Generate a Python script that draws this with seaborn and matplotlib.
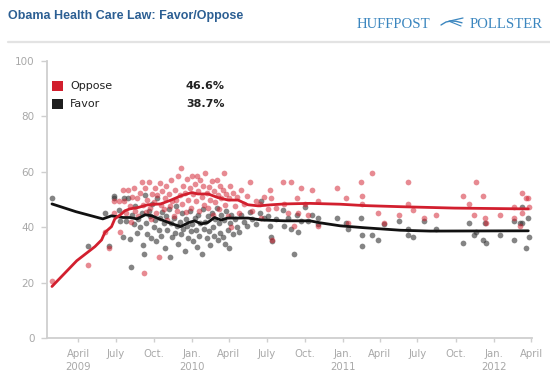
import pandas as pd
import numpy as np
import matplotlib
matplotlib.use("Agg")
import matplotlib.pyplot as plt
import seaborn as sns
from matplotlib.patches import Rectangle
from matplotlib.lines import Line2D

# poll results (each poll gives an oppose and a favor value)
poll_dates = [
    "2009-01-28", "2009-04-26", "2009-06-05", "2009-06-14", "2009-06-26", "2009-06-27",
    "2009-07-08", "2009-07-12", "2009-07-18", "2009-07-22", "2009-07-26",
    "2009-08-01", "2009-08-04", "2009-08-07", "2009-08-10", "2009-08-14", "2009-08-18",
    "2009-08-21", "2009-08-25", "2009-08-29",
    "2009-09-02", "2009-09-05", "2009-09-08", "2009-09-10", "2009-09-13", "2009-09-16",
    "2009-09-19", "2009-09-22", "2009-09-25", "2009-09-28",
    "2009-10-01", "2009-10-04", "2009-10-07", "2009-10-10", "2009-10-13", "2009-10-16",
    "2009-10-19", "2009-10-22", "2009-10-25", "2009-10-28", "2009-10-31",
    "2009-11-03", "2009-11-06", "2009-11-09", "2009-11-12", "2009-11-15", "2009-11-18",
    "2009-11-21", "2009-11-24", "2009-11-27", "2009-11-30",
    "2009-12-03", "2009-12-06", "2009-12-09", "2009-12-12", "2009-12-15", "2009-12-18",
    "2009-12-21", "2009-12-24", "2009-12-27", "2009-12-30",
    "2010-01-02", "2010-01-05", "2010-01-08", "2010-01-11", "2010-01-13", "2010-01-16",
    "2010-01-19", "2010-01-22", "2010-01-25", "2010-01-28", "2010-01-31",
    "2010-02-03", "2010-02-06", "2010-02-09", "2010-02-12", "2010-02-15", "2010-02-18",
    "2010-02-21", "2010-02-24", "2010-02-27",
    "2010-03-02", "2010-03-05", "2010-03-08", "2010-03-11", "2010-03-14", "2010-03-17",
    "2010-03-20", "2010-03-23", "2010-03-26", "2010-03-29",
    "2010-04-01", "2010-04-04", "2010-04-07", "2010-04-11", "2010-04-15", "2010-04-20",
    "2010-04-25", "2010-05-01", "2010-05-07", "2010-05-14", "2010-05-21", "2010-05-28",
    "2010-06-05", "2010-06-14", "2010-06-18", "2010-06-26",
    "2010-07-05", "2010-07-10", "2010-07-12", "2010-07-14", "2010-07-25",
    "2010-08-10", "2010-08-11", "2010-08-22", "2010-08-29", "2010-09-06", "2010-09-13",
    "2010-09-14", "2010-09-22", "2010-10-03", "2010-10-09", "2010-10-19", "2010-11-02",
    "2010-11-03", "2010-12-18",
    "2011-01-10", "2011-01-14", "2011-02-15", "2011-02-16", "2011-02-17", "2011-03-13",
    "2011-03-28", "2011-04-11", "2011-05-17", "2011-06-07", "2011-06-08", "2011-06-21",
    "2011-07-18", "2011-08-15", "2011-10-18", "2011-11-02", "2011-11-15", "2011-11-19",
    "2011-12-07", "2011-12-12", "2011-12-13",
    "2012-01-16", "2012-02-19", "2012-02-20", "2012-03-05", "2012-03-10", "2012-03-11",
    "2012-03-19", "2012-03-25", "2012-03-26",
]
oppose = [
    20.4, 26.4, 38.4, 32.4, 45.3, 49.3,
    49.3, 38.4, 53.4, 49.3, 45.3,
    53.4, 47.5, 42.0, 51.0, 54.3, 46.0, 50.5, 44.0, 52.5,
    56.4, 48.0, 23.3, 54.3, 45.5, 50.0, 56.4, 47.0, 43.0, 52.0,
    49.0, 54.3, 45.0, 51.5, 29.4, 56.0, 48.0, 53.0, 46.5, 50.5, 55.0,
    42.5, 52.0, 47.5, 57.0, 49.5, 44.0, 53.5, 50.0, 46.0, 58.5,
    51.5, 61.3, 48.5, 55.0, 52.5, 45.5, 57.5, 50.0, 54.0, 47.0,
    58.6, 52.0, 55.5, 49.5, 58.6, 53.0, 46.0, 57.0, 51.0, 55.0, 48.0,
    59.4, 52.5, 47.0, 54.5, 50.0, 56.5, 44.5, 53.0, 49.0,
    57.0, 51.5, 46.5, 55.0, 50.5, 53.5, 59.4, 48.0, 52.0, 44.0,
    50.5, 55.0, 39.9, 52.5, 47.5, 51.0, 45.0, 53.5, 48.5, 51.4, 56.4, 46.0,
    49.5, 48.4, 43.5, 51.0,
    46.5, 53.4, 50.4, 35.4, 47.0,
    56.4, 48.4, 45.3, 56.4, 40.3, 50.4, 45.3, 54.3, 48.4, 44.4, 53.4, 49.3, 40.3, 54.3,
    50.4, 41.4, 56.4, 51.4, 48.4, 59.4, 45.3, 41.6, 44.4, 56.4, 48.4, 46.3,
    43.3, 44.4, 51.4, 48.4, 44.4, 56.4, 51.4, 43.3, 41.4,
    44.4, 47.4, 43.3, 40.3, 52.4, 45.3, 50.4, 50.4, 47.4,
]
favor = [
    50.4, 33.3, 45.3, 33.3, 51.4, 50.4,
    46.3, 42.3, 36.3, 50.4, 42.3,
    50.4, 35.7, 25.5, 44.5, 41.0, 47.5, 38.0, 43.0, 40.0,
    45.0, 33.5, 30.3, 51.5, 41.5, 37.5, 46.0, 44.0, 36.0, 48.5,
    40.0, 42.5, 35.0, 50.5, 39.0, 43.5, 37.0, 45.5, 41.5, 32.5, 44.0,
    39.0, 46.5, 29.4, 41.5, 36.5, 43.5, 38.0, 47.5, 40.5, 34.0,
    42.0, 37.5, 45.0, 39.5, 31.5, 43.0, 40.5, 36.0, 46.0, 38.5,
    41.0, 35.0, 43.5, 39.0, 33.0, 44.5, 37.0, 41.5, 30.5, 46.5, 39.5,
    42.0, 36.0, 44.0, 38.5, 33.5, 45.0, 40.0, 37.0, 43.0,
    47.0, 35.5, 41.5, 38.0, 44.5, 36.5, 42.5, 34.0, 46.0, 39.0,
    32.4, 41.5, 44.5, 37.5, 43.0, 40.0, 38.4, 44.4, 42.0, 40.5, 45.5, 43.0,
    41.0, 45.3, 49.5, 43.5,
    44.0, 40.5, 36.3, 35.0, 43.0,
    46.3, 40.3, 43.3, 39.4, 30.3, 44.4, 38.4, 42.3, 47.4, 42.3, 44.4, 43.3, 41.0, 43.3,
    41.4, 39.4, 43.3, 37.3, 33.3, 37.3, 35.4, 41.2, 42.3, 39.4, 37.3, 36.3,
    42.3, 39.4, 34.3, 41.4, 37.3, 38.4, 35.4, 41.4, 34.3,
    37.3, 42.3, 35.4, 41.4, 47.4, 41.4, 32.4, 43.3, 36.3,
]

# smoothed trend estimates
trend_dates_opp = [
    "2009-01-28", "2009-03-29", "2009-05-12", "2009-05-28", "2009-06-05", "2009-06-21",
    "2009-06-29", "2009-07-15", "2009-07-23", "2009-08-04", "2009-08-24", "2009-09-17",
    "2009-10-18", "2009-11-12", "2009-12-07", "2010-01-01", "2010-01-16", "2010-02-10",
    "2010-03-05", "2010-03-30", "2010-04-23", "2010-05-17", "2010-06-11", "2010-07-13",
    "2010-08-14", "2010-10-14", "2010-12-26", "2011-02-23", "2011-05-21", "2011-09-28",
    "2012-03-25",
]
trend_opp = [
    18.6, 27.9, 33.0, 35.4, 38.1, 40.2,
    43.0, 44.8, 45.9, 46.6, 47.1, 48.1,
    48.4, 49.8, 51.4, 52.5, 52.0, 52.0,
    50.7, 49.8, 49.8, 48.1, 47.7, 48.1,
    48.4, 48.6, 48.3, 47.8, 47.4, 46.9,
    46.6,
]
trend_dates_fav = [
    "2009-01-28", "2009-03-27", "2009-05-31", "2009-06-21", "2009-07-19", "2009-08-04",
    "2009-08-22", "2009-09-11", "2009-09-27", "2009-10-21", "2009-11-15", "2009-12-05",
    "2009-12-25", "2010-01-08", "2010-01-24", "2010-02-09", "2010-02-25", "2010-03-13",
    "2010-03-29", "2010-05-17", "2010-06-19", "2010-08-14", "2010-10-14", "2010-11-07",
    "2010-12-26", "2011-02-23", "2011-05-21", "2011-08-01", "2012-03-25",
]
trend_fav = [
    48.4, 45.6, 43.0, 44.1, 43.5, 43.5,
    43.0, 44.5, 44.1, 42.6, 41.2, 40.2,
    41.7, 42.3, 41.2, 41.7, 43.5, 42.6,
    43.3, 43.3, 42.6, 42.3, 42.3, 41.6,
    40.5, 39.8, 38.9, 38.6, 38.7,
]

tick_dates = ["2009-04-01", "2009-07-01", "2009-10-01", "2010-01-01", "2010-04-01",
              "2010-07-01", "2010-10-01", "2011-01-01", "2011-04-01", "2011-07-01",
              "2011-10-01", "2012-01-01", "2012-04-01"]
tick_labels = ["April\n2009", "July", "Oct.", "Jan.\n2010", "April", "July", "Oct.",
               "Jan.\n2011", "April", "July", "Oct.", "Jan.\n2012", "April"]

polls = pd.DataFrame({"date": pd.to_datetime(poll_dates), "Oppose": oppose, "Favor": favor})
tr_opp = pd.DataFrame({"date": pd.to_datetime(trend_dates_opp), "value": trend_opp})
tr_fav = pd.DataFrame({"date": pd.to_datetime(trend_dates_fav), "value": trend_fav})

red = "#d21f2e"
dark = "#111111"
gray_txt = "#a8a8a8"
logo_blue = "#3b86bf"

sns.set_style("white")
plt.rcParams["font.family"] = ["DejaVu Sans"]

fig = plt.figure(figsize=(5.5, 3.77), dpi=100)
ax = fig.add_axes([47 / 550, 39 / 377, 485 / 550, 277 / 377])

sns.scatterplot(data=polls, x="date", y="Favor", color="#333333", alpha=0.6,
                s=17, linewidth=0, ax=ax, zorder=2)
sns.scatterplot(data=polls, x="date", y="Oppose", color=red, alpha=0.52,
                s=17, linewidth=0, ax=ax, zorder=3)
sns.lineplot(data=tr_fav, x="date", y="value", color=dark, linewidth=2.0, ax=ax, zorder=4)
sns.lineplot(data=tr_opp, x="date", y="value", color=red, linewidth=2.0, ax=ax, zorder=5)

ax.set_xlim(pd.Timestamp("2009-01-16"), pd.Timestamp("2012-04-03"))
ax.set_ylim(0, 100)
ax.set_yticks([0, 20, 40, 60, 80, 100])
ax.set_xticks(pd.to_datetime(tick_dates))
ax.set_xticklabels(tick_labels, linespacing=1.3)
ax.set_xlabel("")
ax.set_ylabel("")

for side in ["top", "right"]:
    ax.spines[side].set_visible(False)
for side in ["left", "bottom"]:
    ax.spines[side].set_color("#cfcfcf")
    ax.spines[side].set_linewidth(1.3)

ax.tick_params(axis="y", direction="out", length=4, width=1, color="#cfcfcf",
               labelsize=7.5, labelcolor=gray_txt, pad=5, left=True)
ax.tick_params(axis="x", direction="out", length=3, width=1, color="#cfcfcf",
               labelsize=7.3, labelcolor=gray_txt, pad=5, bottom=True)

# header
fig.text(8 / 550, 1 - 19.5 / 377, "Obama Health Care Law: Favor/Oppose",
         family="Liberation Sans", fontweight="bold", fontsize=9.0, color="#2c5f93",
         ha="left", va="baseline")
fig.text(357 / 550, 1 - 27.5 / 377, "HUFFPOST", family="Liberation Serif",
         fontsize=10.6, color=logo_blue, ha="left", va="baseline")
fig.text(543 / 550, 1 - 27.5 / 377, "POLLSTER", family="Liberation Serif",
         fontsize=10.6, color=logo_blue, ha="right", va="baseline")
# small bird mark between the two words
bird_x = np.array([441, 446, 451, 456, 462]) / 550
bird_y = 1 - np.array([25.0, 22.0, 21.0, 21.3, 22.8]) / 377
fig.add_artist(Line2D(bird_x, bird_y, color=logo_blue, linewidth=1.0))
fig.add_artist(Line2D(np.array([449, 463]) / 550, 1 - np.array([21.2, 18.0]) / 377,
                      color=logo_blue, linewidth=0.9))
fig.add_artist(Line2D(np.array([449, 461]) / 550, 1 - np.array([21.2, 26.0]) / 377,
                      color=logo_blue, linewidth=0.8))
fig.add_artist(Line2D([8 / 550, 1], [1 - 41.5 / 377] * 2, color="#e3e3e3", linewidth=1.6))

# legend with latest trend values
for label, col, yc, val in [("Oppose", red, 85.7, trend_opp[-1]),
                             ("Favor", "#1e1e1e", 104.3, trend_fav[-1])]:
    fig.add_artist(Rectangle((52.3 / 550, 1 - (yc + 5) / 377), 10.4 / 550, 10 / 377,
                             facecolor=col, edgecolor="none"))
    fig.text(70 / 550, 1 - yc / 377, label, fontsize=8, color="#222222",
             ha="left", va="center")
    fig.text(186 / 550, 1 - yc / 377, f"{val:.1f}%", fontsize=8, fontweight="bold",
             color="#222222", ha="left", va="center")

fig.savefig("out.png", dpi=100)
